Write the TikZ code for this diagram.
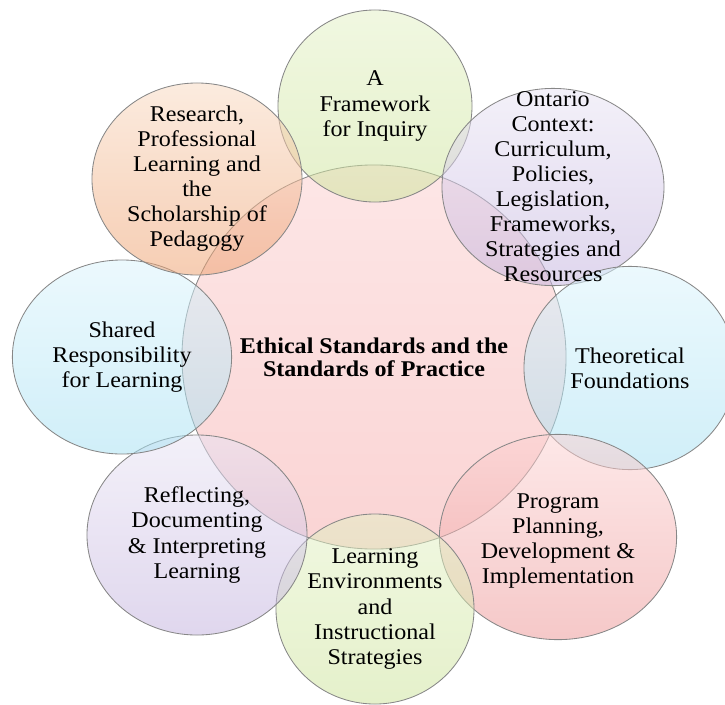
\documentclass[tikz,border=0pt]{standalone}
\usepackage{fontspec}
\setmainfont{Liberation Serif}[FakeStretch=1.07]
\usepackage{tikz}
\usetikzlibrary{shapes.geometric}
\definecolor{rimgray}{RGB}{135,135,135}
\definecolor{hubtop}{RGB}{253,230,230}
\definecolor{hubbottom}{RGB}{250,212,212}
\definecolor{leaftop}{RGB}{227,240,197}
\definecolor{leafbottom}{RGB}{205,228,155}
\definecolor{peachtop}{RGB}{248,217,193}
\definecolor{peachbottom}{RGB}{238,160,110}
\definecolor{lilactop}{RGB}{232,227,243}
\definecolor{lilacbottom}{RGB}{195,178,222}
\definecolor{skytop}{RGB}{218,243,252}
\definecolor{skybottom}{RGB}{165,224,242}
\definecolor{rosetop}{RGB}{252,210,210}
\definecolor{rosebottom}{RGB}{236,150,150}

\begin{document}
\begin{tikzpicture}[x=0.025cm,y=-0.025cm,
    hub/.style={circle,draw=rimgray,line width=0.6pt,minimum size=9.6cm,inner sep=0pt,
        top color=hubtop,bottom color=hubbottom},
    topic/.style={ellipse,draw=rimgray,line width=0.6pt,inner sep=0pt,fill opacity=0.52},
    topictext/.style={align=center,font=\fontsize{16}{17.8}\selectfont},
    hubtext/.style={align=center,font=\fontsize{16}{16.4}\selectfont\bfseries}]

    \useasboundingbox (0,0) rectangle (725,705);

    \node[hub] (hub) at (374,357) {};

    \node[topic,minimum width=4.85cm,minimum height=4.8cm,top color=leaftop,bottom color=leafbottom] (inquiry) at (375,106) {};
    \node[topic,minimum width=5.55cm,minimum height=4.93cm,top color=lilactop,bottom color=lilacbottom] (ontario) at (553,187) {};
    \node[topic,minimum width=5.3cm,minimum height=5.08cm,top color=skytop,bottom color=skybottom] (theory) at (630,368) {};
    \node[topic,minimum width=5.93cm,minimum height=5.13cm,top color=rosetop,bottom color=rosebottom] (program) at (558,537) {};
    \node[topic,minimum width=4.95cm,minimum height=4.75cm,top color=leaftop,bottom color=leafbottom] (environ) at (375,609) {};
    \node[topic,minimum width=5.5cm,minimum height=5cm,top color=lilactop,bottom color=lilacbottom] (reflect) at (197,535) {};
    \node[topic,minimum width=5.48cm,minimum height=4.85cm,top color=skytop,bottom color=skybottom] (shared) at (122,357) {};
    \node[topic,minimum width=5.25cm,minimum height=4.8cm,top color=peachtop,bottom color=peachbottom] (research) at (197,179) {};

    \node[hubtext] (hubtxt) at (hub) {Ethical Standards and the\\Standards of Practice};
    \node[topictext] (inquirytxt) at (inquiry) {A\\Framework\\for Inquiry};
    \node[topictext] (ontariotxt) at (ontario) {Ontario\\Context:\\Curriculum,\\Policies,\\Legislation,\\Frameworks,\\Strategies and\\Resources};
    \node[topictext] (theorytxt) at (theory) {Theoretical\\Foundations};
    \node[topictext] (programtxt) at ([yshift=-3]program) {Program\\Planning,\\Development \&\\Implementation};
    \node[topictext] (environtxt) at (environ) {Learning\\Environments\\and\\Instructional\\Strategies};
    \node[topictext] (reflecttxt) at (reflect) {Reflecting,\\Documenting\\\& Interpreting\\Learning};
    \node[topictext] (sharedtxt) at (shared) {Shared\\Responsibility\\for Learning};
    \node[topictext] (researchtxt) at (research) {Research,\\Professional\\Learning and\\the\\Scholarship of\\Pedagogy};

\end{tikzpicture}
\end{document}
